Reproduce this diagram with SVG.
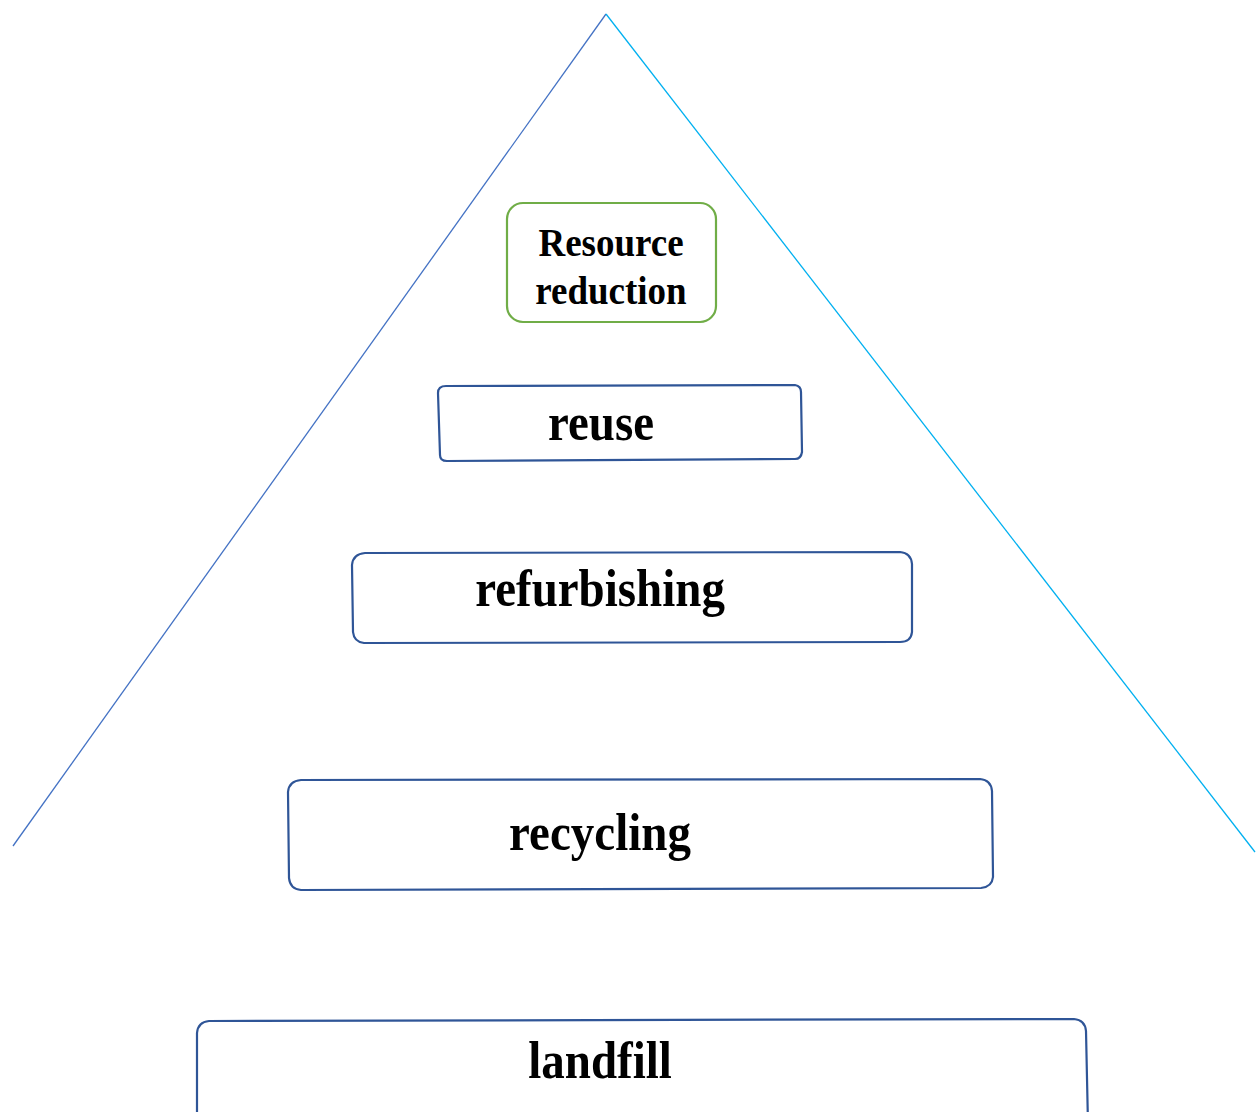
<svg xmlns="http://www.w3.org/2000/svg" width="1256" height="1112" viewBox="0 0 1256 1112">
  <style>
    .box { fill: #ffffff; stroke: #2F5597; stroke-width: 2.2; stroke-linejoin: round; }
    .top { fill: #ffffff; stroke: #70AD47; stroke-width: 2.2; }
    .lbl { font-family: "Liberation Serif", "Times New Roman", serif; font-weight: bold; fill: #000000; text-anchor: middle; }
    .big { font-size: 47px; }
    .small { font-size: 37px; }
  </style>
  <rect width="1256" height="1112" fill="#ffffff"/>

  <!-- pyramid sides -->
  <g id="connectors" fill="none" stroke-width="1.3">
    <line x1="606" y1="14" x2="13" y2="846" stroke="#4472C4"/>
    <line x1="606" y1="14" x2="1255" y2="852" stroke="#00B0F0"/>
  </g>

  <g id="resource-reduction">
    <rect class="top" x="507" y="203" width="209" height="119" rx="16" ry="16"/>
    <text class="lbl small" transform="translate(611,256) scale(1,1.06)">Resource</text>
    <text class="lbl small" transform="translate(611,304) scale(1,1.06)">reduction</text>
  </g>

  <g id="reuse">
    <path class="box" d="M446,386 L795,385 Q801,386 801,392 L802,452 Q801,459 795,459 L447,461 Q440,461 440,455 L438,393 Q438,386 446,386 Z"/>
    <text class="lbl big" transform="translate(601,440) scale(1,1.12)">reuse</text>
  </g>

  <g id="refurbishing">
    <path class="box" d="M365,553 L900,552 Q911,553 912,564 L912,632 Q911,642 900,642 L364,643 Q354,642 353,632 L352,565 Q353,554 365,553 Z"/>
    <text class="lbl big" transform="translate(600,606) scale(1,1.12)">refurbishing</text>
  </g>

  <g id="recycling">
    <path class="box" d="M301,780 L980,779 Q991,780 992,791 L993,877 Q992,887 981,888 L301,890 Q290,889 289,878 L288,792 Q289,781 301,780 Z"/>
    <text class="lbl big" transform="translate(600,850) scale(1,1.12)">recycling</text>
  </g>

  <g id="landfill">
    <path class="box" d="M197,1125 L197,1033 Q198,1022 209,1021 L1074,1019 Q1085,1020 1086,1031 L1088,1125"/>
    <text class="lbl big" transform="translate(600,1078) scale(1,1.12)">landfill</text>
  </g>
</svg>
